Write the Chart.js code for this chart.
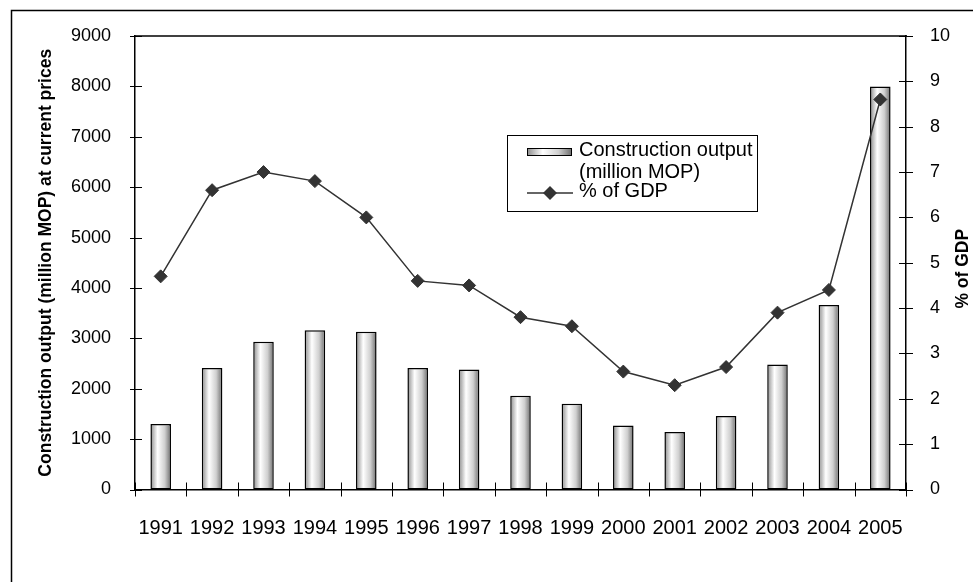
<!DOCTYPE html>
<html>
<head>
<meta charset="utf-8">
<script src="https://cdn.jsdelivr.net/npm/chart.js@4/dist/chart.umd.min.js"></script>
<style>
  html, body { margin: 0; padding: 0; background: #fff; }
  #wrap { position: relative; width: 973px; height: 582px; }
  canvas { display: block; }
</style>
</head>
<body>
<div id="wrap"><canvas id="chart" width="973" height="582"></canvas></div>
<script>
// Macau construction output and its share of GDP, 1991-2005
const years = ['1991', '1992', '1993', '1994', '1995', '1996', '1997', '1998',
               '1999', '2000', '2001', '2002', '2003', '2004', '2005'];
const constructionOutput = [1300, 2410, 2930, 3160, 3130, 2410, 2380, 1860,
                            1700, 1270, 1140, 1460, 2480, 3660, 8000];
const gdpShare = [4.7, 6.6, 7.0, 6.8, 6.0, 4.6, 4.5, 3.8,
                  3.6, 2.6, 2.3, 2.7, 3.9, 4.4, 8.6];

// axis ranges and tick steps
const outputAxis = [0, 9000, 1000];   // min, max, step
const shareAxis = [0, 10, 1];

const leftTitle = 'Construction output (million MOP) at current prices';
const rightTitle = '% of GDP';
const legendLabels = ['Construction output', '(million MOP)', '% of GDP'];

const FONT = "Arial, 'Liberation Sans', sans-serif";
const LINE_COLOR = '#333333';

function barGradient(ctx, x0, x1) {
  const g = ctx.createLinearGradient(x0, 0, x1, 0);
  g.addColorStop(0, '#8a8a8a');
  g.addColorStop(0.35, '#ffffff');
  g.addColorStop(0.7, '#cfcfcf');
  g.addColorStop(1, '#6c6c6c');
  return g;
}

function drawDiamond(ctx, x, y, r) {
  ctx.beginPath();
  ctx.moveTo(x - r, y);
  ctx.lineTo(x, y - r);
  ctx.lineTo(x + r, y);
  ctx.lineTo(x, y + r);
  ctx.closePath();
  ctx.fillStyle = LINE_COLOR;
  ctx.fill();
}

// Frame, crossing tick marks, axis titles and the boxed legend
const decorations = {
  id: 'decorations',
  beforeDraw(chart) {
    const ctx = chart.ctx;
    ctx.save();
    ctx.fillStyle = '#fff';
    ctx.fillRect(0, 0, chart.width, chart.height);
    ctx.strokeStyle = '#000';
    ctx.lineWidth = 1.5;
    ctx.beginPath();
    ctx.moveTo(11.5, chart.height);
    ctx.lineTo(11.5, 10.5);
    ctx.lineTo(chart.width, 10.5);
    ctx.stroke();
    ctx.restore();
  },
  afterDraw(chart) {
    const ctx = chart.ctx;
    const area = chart.chartArea;
    const x = chart.scales.x, y = chart.scales.y, y2 = chart.scales.y2;
    ctx.save();
    ctx.strokeStyle = '#000';
    ctx.lineWidth = 1.5;

    // top edge of the plot area
    ctx.beginPath();
    ctx.moveTo(area.left - 1, area.top);
    ctx.lineTo(area.right + 1, area.top);
    ctx.stroke();

    ctx.lineWidth = 1;
    ctx.beginPath();
    for (let v = outputAxis[0]; v <= outputAxis[1]; v += outputAxis[2]) {
      const py = Math.round(y.getPixelForValue(v)) + 0.5;
      ctx.moveTo(area.left - 5, py);
      ctx.lineTo(area.left + 7, py);
    }
    for (let v = shareAxis[0]; v <= shareAxis[1]; v += shareAxis[2]) {
      const py = Math.round(y2.getPixelForValue(v)) + 0.5;
      ctx.moveTo(area.right - 7, py);
      ctx.lineTo(area.right + 7, py);
    }
    const step = (x.right - x.left) / years.length;
    for (let i = 0; i <= years.length; i++) {
      const px = Math.round(x.left + i * step) + 0.5;
      ctx.moveTo(px, area.bottom - 7);
      ctx.lineTo(px, area.bottom + 7);
    }
    ctx.stroke();

    // axis titles
    ctx.fillStyle = '#000';
    ctx.font = 'bold 17.5px ' + FONT;
    ctx.textAlign = 'center';
    ctx.textBaseline = 'middle';
    const midY = (area.top + area.bottom) / 2;
    ctx.save();
    ctx.translate(46, midY);
    ctx.rotate(-Math.PI / 2);
    ctx.fillText(leftTitle, 0, 0);
    ctx.restore();
    ctx.save();
    ctx.translate(963, midY + 6);
    ctx.rotate(-Math.PI / 2);
    ctx.fillText(rightTitle, 0, 0);
    ctx.restore();

    // legend
    ctx.fillStyle = '#fff';
    ctx.fillRect(507.5, 135.5, 250, 76);
    ctx.strokeStyle = '#000';
    ctx.lineWidth = 1;
    ctx.strokeRect(507.5, 135.5, 250, 76);

    ctx.fillStyle = barGradient(ctx, 527, 572);
    ctx.fillRect(527, 148, 45, 7);
    ctx.strokeRect(527.5, 148.5, 44, 7);

    ctx.strokeStyle = LINE_COLOR;
    ctx.lineWidth = 1.5;
    ctx.beginPath();
    ctx.moveTo(527, 193);
    ctx.lineTo(573, 193);
    ctx.stroke();
    drawDiamond(ctx, 550, 193, 7);

    ctx.fillStyle = '#000';
    ctx.font = '20px ' + FONT;
    ctx.textAlign = 'left';
    ctx.textBaseline = 'alphabetic';
    ctx.fillText(legendLabels[0], 579, 156);
    ctx.fillText(legendLabels[1], 579, 178);
    ctx.fillText(legendLabels[2], 579, 197);
    ctx.restore();
  }
};

new Chart(document.getElementById('chart'), {
  type: 'bar',
  data: {
    labels: years,
    datasets: [
      {
        type: 'line',
        label: legendLabels[2],
        data: gdpShare,
        yAxisID: 'y2',
        order: 0,
        borderColor: LINE_COLOR,
        borderWidth: 1.5,
        pointStyle: 'rectRot',
        pointRadius: 6.5,
        pointBackgroundColor: LINE_COLOR,
        pointBorderColor: LINE_COLOR,
        pointBorderWidth: 1,
        tension: 0,
        fill: false
      },
      {
        type: 'bar',
        label: legendLabels[0] + ' ' + legendLabels[1],
        data: constructionOutput,
        yAxisID: 'y',
        order: 1,
        borderColor: '#000',
        borderWidth: 1.5,
        borderSkipped: false,
        categoryPercentage: 1,
        barPercentage: 0.4,
        backgroundColor(context) {
          const chart = context.chart;
          const xs = chart.scales.x;
          if (!xs || context.dataIndex === undefined) return '#ddd';
          const cx = xs.getPixelForValue(context.dataIndex);
          const half = (xs.width / years.length) * 0.4 / 2;
          if (!isFinite(cx) || !isFinite(half) || half <= 0) return '#ddd';
          return barGradient(chart.ctx, cx - half, cx + half);
        }
      }
    ]
  },
  options: {
    responsive: false,
    animation: false,
    devicePixelRatio: 1,
    layout: { padding: { left: 0, right: 0, top: 36, bottom: 0 } },
    plugins: {
      legend: { display: false },
      tooltip: { enabled: false },
      title: { display: false }
    },
    scales: {
      x: {
        offset: true,
        grid: { display: false },
        border: { display: true, color: '#000', width: 1.5 },
        ticks: {
          color: '#000',
          font: { family: FONT, size: 20 },
          padding: 19,
          maxRotation: 0,
          autoSkip: false
        },
        afterFit(scale) { scale.height = 92.5; }
      },
      y: {
        position: 'left',
        min: outputAxis[0],
        max: outputAxis[1],
        grid: { display: false },
        border: { display: true, color: '#000', width: 1.5 },
        ticks: {
          stepSize: outputAxis[2],
          color: '#000',
          font: { family: FONT, size: 18 },
          padding: 16,
          callback: (value) => String(value)
        },
        afterFit(scale) { scale.width = 135; }
      },
      y2: {
        position: 'right',
        min: shareAxis[0],
        max: shareAxis[1],
        grid: { display: false },
        border: { display: true, color: '#000', width: 1.5 },
        ticks: {
          stepSize: shareAxis[2],
          color: '#000',
          font: { family: FONT, size: 18 },
          padding: 16,
          callback: (value) => String(value)
        },
        afterFit(scale) { scale.width = 67; }
      }
    }
  },
  plugins: [decorations]
});
</script>
</body>
</html>
